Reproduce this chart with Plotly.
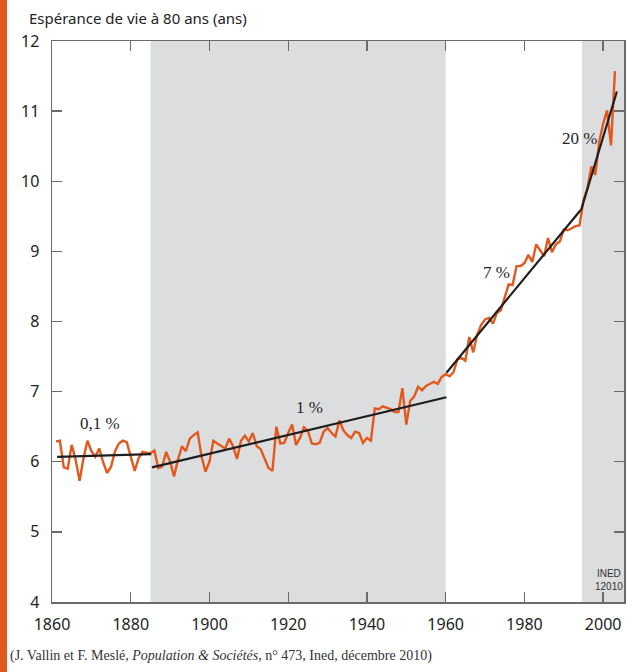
import plotly.graph_objects as go

# ---- data ----
years = list(range(1861, 2004))
values = [
    6.29, 6.30, 5.92, 5.90, 6.24, 6.03, 5.73, 6.05, 6.30, 6.15,   # 1861-1870
    6.07, 6.19, 5.99, 5.84, 5.93, 6.15, 6.26, 6.30, 6.28, 6.07,   # 1871-1880
    5.87, 6.05, 6.14, 6.13, 6.12, 6.16, 5.91, 5.93, 6.14, 6.00,   # 1881-1890
    5.79, 6.03, 6.22, 6.15, 6.33, 6.38, 6.42, 6.07, 5.86, 6.00,   # 1891-1900
    6.30, 6.26, 6.22, 6.19, 6.33, 6.22, 6.04, 6.30, 6.37, 6.29,   # 1901-1910
    6.41, 6.22, 6.18, 6.05, 5.91, 5.87, 6.50, 6.26, 6.27, 6.41,   # 1911-1920
    6.53, 6.24, 6.34, 6.49, 6.44, 6.26, 6.25, 6.27, 6.43, 6.48,   # 1921-1930
    6.41, 6.36, 6.59, 6.45, 6.38, 6.34, 6.43, 6.41, 6.27, 6.34,   # 1931-1940
    6.30, 6.76, 6.75, 6.79, 6.77, 6.75, 6.71, 6.71, 7.05, 6.53,   # 1941-1950
    6.87, 6.93, 7.07, 7.02, 7.08, 7.11, 7.14, 7.11, 7.21, 7.25,   # 1951-1960
    7.22, 7.28, 7.46, 7.48, 7.44, 7.78, 7.56, 7.81, 7.95, 8.03,   # 1961-1970
    8.05, 7.97, 8.12, 8.16, 8.34, 8.53, 8.52, 8.79, 8.79, 8.83,   # 1971-1980
    8.95, 8.85, 9.10, 9.02, 8.93, 9.19, 8.99, 9.10, 9.14, 9.31,   # 1981-1990
    9.30, 9.33, 9.36, 9.37, 9.73, 9.90, 10.21, 10.09, 10.56, 10.82,  # 1991-2000
    11.01, 10.51, 11.57,                                          # 2001-2003
]

# trend segments (start/end year, start/end value) and their labels
trend_x = [[1861.3, 1885.2], [1885.4, 1960.2], [1960.2, 1994.3], [1994.4, 2003.5]]
trend_y = [[6.07, 6.11], [5.92, 6.92], [7.27, 9.59], [9.59, 11.28]]
trend_labels = ["0,1 %", "1 %", "7 %", "20 %"]
label_x = [1872.2, 1925.5, 1972.8, 1994.0]
label_y = [6.55, 6.77, 8.70, 10.61]

shaded_periods = [[1885, 1960], [1994.6, 2005.3]]

x_ticks = [1860, 1880, 1900, 1920, 1940, 1960, 1980, 2000]
y_ticks = [4, 5, 6, 7, 8, 9, 10, 11, 12]

ORANGE = "#e2581d"
AXIS = "#6b6b6b"
SANS = "Noto Sans, Lato, sans-serif"
SERIF = "Liberation Serif, Times New Roman, serif"

fig = go.Figure()

fig.add_trace(go.Scatter(x=years, y=values, mode="lines",
                         line=dict(color=ORANGE, width=2.4), hoverinfo="skip",
                         showlegend=False))

for tx, ty in zip(trend_x, trend_y):
    fig.add_trace(go.Scatter(x=tx, y=ty, mode="lines",
                             line=dict(color="#1e1e1e", width=2.2),
                             hoverinfo="skip", showlegend=False))

shapes = []
for x0, x1 in shaded_periods:
    shapes.append(dict(type="rect", xref="x", yref="paper", x0=x0, x1=x1,
                       y0=0, y1=1, fillcolor="#dcdddf", line=dict(width=0),
                       layer="below"))

# left orange bar of the page
L, T, PW, PH = 52, 41, 572, 561
def px(p):
    return (p - L) / PW
def py(p):
    return (T + PH - p) / PH
shapes.append(dict(type="rect", xref="paper", yref="paper",
                   x0=px(0), x1=px(7), y0=py(672), y1=py(0),
                   fillcolor="#df5a1f", line=dict(width=0), layer="above"))

annotations = []
for lab, lx, ly in zip(trend_labels, label_x, label_y):
    annotations.append(dict(x=lx, y=ly, xref="x", yref="y", text=lab,
                            showarrow=False,
                            font=dict(family=SERIF, size=17, color="#262626"),
                            xanchor="center", yanchor="middle"))

annotations.append(dict(x=px(27), y=py(18), xref="paper", yref="paper",
                        text="Espérance de vie à 80 ans (ans)", showarrow=False,
                        xanchor="left", yanchor="middle",
                        font=dict(family=SANS, size=15, color="#222222")))
annotations.append(dict(x=px(609), y=py(580), xref="paper", yref="paper",
                        text="INED<br>12010", showarrow=False,
                        xanchor="center", yanchor="middle", align="center",
                        font=dict(family="Liberation Sans Narrow, Arial Narrow, sans-serif",
                                  size=10, color="#333333")))
annotations.append(dict(x=px(8), y=py(656), xref="paper", yref="paper",
                        text="(J. Vallin et F. Meslé, <i>Population &amp; Sociétés</i>, n° 473, Ined, décembre 2010)",
                        showarrow=False, xanchor="left", yanchor="middle",
                        font=dict(family=SERIF, size=14, color="#333333")))

fig.update_layout(
    width=641, height=672,
    margin=dict(l=L, r=641 - L - PW, t=T, b=672 - T - PH, autoexpand=False),
    paper_bgcolor="white", plot_bgcolor="white",
    shapes=shapes, annotations=annotations,
    xaxis=dict(range=[1860, 2005.3], tickvals=x_ticks, ticks="inside",
               ticklen=10, tickwidth=1.3, tickcolor=AXIS, automargin=False,
               showline=True, linecolor=AXIS, linewidth=1.5, mirror="ticks",
               showgrid=False, zeroline=False,
               tickfont=dict(family=SANS, size=16, color="#222222"),
               ticklabelstandoff=7),
    yaxis=dict(range=[4, 12], tickvals=y_ticks, ticks="inside",
               ticklen=10, tickwidth=1.3, tickcolor=AXIS, automargin=False,
               showline=True, linecolor=AXIS, linewidth=1.5, mirror="ticks",
               showgrid=False, zeroline=False,
               tickfont=dict(family=SANS, size=16, color="#222222"),
               ticklabelstandoff=8),
)

fig.write_html("out.html",
               config={"displayModeBar": False, "staticPlot": True},
               post_script="document.body.style.margin='0';document.body.style.overflow='hidden';")
